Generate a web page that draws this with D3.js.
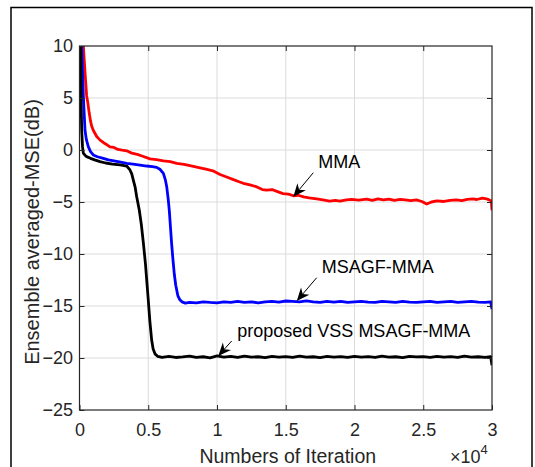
<!DOCTYPE html>
<html>
<head>
<meta charset="utf-8">
<script src="https://cdn.jsdelivr.net/npm/d3@7/dist/d3.min.js"></script>
<style>
  body { margin: 0; background: #fff; }
  text { font-family: "Liberation Sans", Arial, Helvetica, sans-serif; }
</style>
</head>
<body>
<svg id="chart"></svg>
<script>
'use strict';

let WIDTH = 535;
let HEIGHT = 467;

// plot box (pixels)
let LEFT = 79.5, RIGHT = 492, TOP = 46, BOTTOM = 410;

let COLOR = {
    MMA: '#ff0000',
    MSAGF: '#0000ff',
    VSS: '#000000',
    AXIS: '#262626',
    GRID: '#dbdbdb'
};

// axis ticks
let xTicks = [0, 5000, 10000, 15000, 20000, 25000, 30000];
let xTickLabels = ['0', '0.5', '1', '1.5', '2', '2.5', '3'];
let yTicks = [-25, -20, -15, -10, -5, 0, 5, 10];

// [iteration, MSE dB]
let mma = [
    [0, 30], [100, 20], [200, 13], [280, 10], [400, 7.5], [520, 5.2], [600, 4.6], [700, 3.6],
    [800, 2.8], [885, 2.3], [1000, 1.9], [1250, 1.3], [1500, 0.95], [1750, 0.7], [2000, 0.5],
    [2220, 0.3], [2500, 0.25], [2800, 0.05], [3100, -0.02], [3430, -0.08], [3800, -0.3],
    [4200, -0.42], [4600, -0.6], [5130, -0.85], [5600, -0.92], [6100, -1.05], [6600, -1.12],
    [7070, -1.28], [7600, -1.38], [8200, -1.55], [8760, -1.72], [9200, -1.85], [9700, -2.0],
    [10220, -2.35], [10700, -2.6], [11200, -2.85], [11600, -3.05], [11910, -3.2], [12400, -3.35],
    [12900, -3.55], [13300, -3.8], [13610, -3.85], [14000, -3.8], [14400, -4.0], [14800, -4.2],
    [15200, -4.25], [15550, -4.4], [15900, -4.35], [16300, -4.5], [16700, -4.6], [17250, -4.7],
    [17700, -4.8], [18200, -4.92], [18600, -4.85], [18950, -4.92], [19400, -4.8], [19800, -4.75],
    [20300, -4.82], [20890, -4.72], [21300, -4.85], [21700, -4.7], [22100, -4.8], [22500, -4.72],
    [22900, -4.85], [23310, -4.75], [23700, -4.8], [24100, -4.86], [24500, -4.8], [24900, -4.95],
    [25250, -5.2], [25600, -5.0], [26000, -4.9], [26500, -4.95], [26950, -4.85], [27400, -4.8],
    [27800, -4.86], [28200, -4.74], [28600, -4.7], [28890, -4.76], [29300, -4.62], [29600, -4.7],
    [29800, -4.8], [29950, -4.9], [30000, -5.8]
];

let msagf = [
    [0, 30], [80, 18], [160, 10], [280, 5.2], [400, 1.9], [500, 1.0], [640, 0.32], [800, -0.15],
    [1000, -0.48], [1300, -0.65], [1730, -0.8], [2100, -0.95], [2500, -1.05], [2900, -1.15],
    [3430, -1.28], [3900, -1.35], [4400, -1.45], [4890, -1.54], [5300, -1.6], [5610, -1.67],
    [5850, -1.85], [6100, -2.24], [6250, -2.9], [6340, -3.5], [6450, -4.7], [6530, -5.8],
    [6620, -7.5], [6700, -9.0], [6800, -10.6], [6900, -12.0], [7000, -13.0], [7150, -14.0],
    [7300, -14.4], [7450, -14.6], [7700, -14.72], [8000, -14.65], [8500, -14.7], [9000, -14.6],
    [9500, -14.66], [10000, -14.7], [10500, -14.6], [11000, -14.66], [11500, -14.56], [12000, -14.65],
    [12500, -14.6], [13000, -14.7], [13500, -14.6], [14000, -14.55], [14500, -14.62], [15000, -14.52],
    [15500, -14.56], [16000, -14.6], [16500, -14.5], [17000, -14.6], [17500, -14.66], [18000, -14.55],
    [18500, -14.62], [19000, -14.55], [19500, -14.66], [20000, -14.6], [20500, -14.55], [21000, -14.62],
    [21500, -14.66], [22000, -14.55], [22500, -14.6], [23000, -14.66], [23500, -14.55], [24000, -14.62],
    [24500, -14.66], [25000, -14.6], [25500, -14.55], [26000, -14.65], [26500, -14.6], [27000, -14.55],
    [27500, -14.65], [28000, -14.6], [28500, -14.55], [29000, -14.62], [29500, -14.65], [29900, -14.6],
    [30000, -15.3]
];

let vss = [
    [0, 30], [40, 15], [80, 10], [120, 4.5], [160, 1.9], [220, 0.3], [280, -0.3], [400, -0.5],
    [520, -0.64], [800, -0.8], [1100, -0.95], [1490, -1.12], [1900, -1.25], [2400, -1.35],
    [2950, -1.44], [3430, -1.54], [3670, -1.92], [3800, -2.3], [3910, -2.88], [4050, -3.6],
    [4160, -4.5], [4350, -5.8], [4500, -7.2], [4650, -9.0], [4800, -11.0], [4900, -12.7],
    [5000, -14.4], [5120, -16.5], [5250, -18.3], [5350, -19.1], [5490, -19.6], [5700, -19.85],
    [6000, -19.95], [6500, -19.85], [7000, -19.95], [7500, -19.9], [8000, -19.82], [8500, -19.95],
    [9000, -19.88], [9500, -19.98], [10000, -19.8], [10500, -19.92], [11000, -19.85], [11500, -19.95],
    [12000, -19.82], [12500, -19.92], [13000, -19.88], [13500, -19.96], [14000, -19.84], [14500, -19.92],
    [15000, -19.86], [15500, -19.95], [16000, -19.82], [16500, -19.92], [17000, -19.88], [17500, -19.96],
    [18000, -19.85], [18500, -19.92], [19000, -19.86], [19500, -19.95], [20000, -19.84], [20500, -19.92],
    [21000, -19.87], [21500, -19.95], [22000, -19.83], [22500, -19.92], [23000, -19.88], [23500, -19.96],
    [24000, -19.84], [24500, -19.9], [25000, -19.86], [25500, -19.95], [26000, -19.84], [26500, -19.92],
    [27000, -19.87], [27500, -19.95], [28000, -19.83], [28500, -19.92], [29000, -19.88], [29500, -19.95],
    [29900, -19.86], [30000, -20.7]
];

// annotations: label, arrow tip in data units, tail and text position in pixels
let notes = [
    { text: 'MMA', tip: [15550, -4.49], tail: [313.3, 172.7], at: [318.3, 167.7] },
    { text: 'MSAGF-MMA', tip: [15800, -14.52], tail: [316.7, 277.7], at: [321.7, 272.7] },
    { text: 'proposed VSS MSAGF-MMA', tip: [10090, -19.8], tail: [231.7, 341], at: [237.3, 336.7] }
];

let svg = d3.select('#chart').attr('width', WIDTH).attr('height', HEIGHT);

let x = d3.scaleLinear().domain([0, 30000]).range([LEFT, RIGHT]);
let y = d3.scaleLinear().domain([-25, 10]).range([BOTTOM, TOP]);

// figure frame
svg.append('rect')
    .attr('x', 11).attr('y', 7.5)
    .attr('width', 521).attr('height', 520)
    .attr('fill', 'none').attr('stroke', '#000').attr('stroke-width', 1.5);

// grid
let grid = svg.append('g');
grid.selectAll('.gx').data(xTicks.slice(1, -1)).enter().append('line')
    .attr('x1', d => x(d)).attr('x2', d => x(d))
    .attr('y1', TOP).attr('y2', BOTTOM)
    .attr('stroke', COLOR.GRID).attr('stroke-width', 1);
grid.selectAll('.gy').data(yTicks.slice(1, -1)).enter().append('line')
    .attr('y1', d => y(d)).attr('y2', d => y(d))
    .attr('x1', LEFT).attr('x2', RIGHT)
    .attr('stroke', COLOR.GRID).attr('stroke-width', 1);

// curves
svg.append('clipPath').attr('id', 'clip')
    .append('rect').attr('x', LEFT).attr('y', TOP)
    .attr('width', RIGHT - LEFT).attr('height', BOTTOM - TOP);

let line = d3.line().x(d => x(d[0])).y(d => y(d[1]));
let curves = svg.append('g').attr('clip-path', 'url(#clip)');
[[mma, COLOR.MMA], [msagf, COLOR.MSAGF], [vss, COLOR.VSS]].forEach(function(s) {
    curves.append('path')
        .attr('d', line(s[0]))
        .attr('fill', 'none')
        .attr('stroke', s[1])
        .attr('stroke-width', 2.8)
        .attr('stroke-linejoin', 'round');
});

// axes: ticks point inward on all four sides
function styleAxis(g) {
    g.select('.domain').remove();
    g.selectAll('.tick line').attr('stroke', COLOR.AXIS);
    g.selectAll('.tick text')
        .attr('fill', COLOR.AXIS)
        .style('font-size', '18px')
        .style('font-family', '"Liberation Sans", Arial, sans-serif');
}

svg.append('g').attr('transform', 'translate(0,' + BOTTOM + ')')
    .call(d3.axisBottom(x).tickValues(xTicks).tickSize(-5).tickPadding(13)
        .tickFormat((d, i) => xTickLabels[i]))
    .call(styleAxis);
svg.append('g').attr('transform', 'translate(0,' + TOP + ')')
    .call(d3.axisTop(x).tickValues(xTicks.slice(1, -1)).tickSize(-5).tickFormat(''))
    .call(styleAxis);
svg.append('g').attr('transform', 'translate(' + LEFT + ',0)')
    .call(d3.axisLeft(y).tickValues(yTicks).tickSize(-5).tickPadding(6.5))
    .call(styleAxis);
svg.append('g').attr('transform', 'translate(' + RIGHT + ',0)')
    .call(d3.axisRight(y).tickValues(yTicks.slice(1, -1)).tickSize(-5).tickFormat(''))
    .call(styleAxis);

// box
svg.append('rect')
    .attr('x', LEFT).attr('y', TOP)
    .attr('width', RIGHT - LEFT).attr('height', BOTTOM - TOP)
    .attr('fill', 'none').attr('stroke', COLOR.AXIS).attr('stroke-width', 1.2);

// labels
svg.append('text')
    .attr('x', (LEFT + RIGHT) / 2 + 2).attr('y', 463)
    .attr('text-anchor', 'middle')
    .attr('fill', COLOR.AXIS)
    .style('font-size', '19.5px')
    .text('Numbers of Iteration');

svg.append('text')
    .attr('transform', 'translate(39,' + ((TOP + BOTTOM) / 2 + 4) + ') rotate(-90)')
    .attr('text-anchor', 'middle')
    .attr('fill', COLOR.AXIS)
    .style('font-size', '20px')
    .text('Ensemble averaged-MSE(dB)');

let exp = svg.append('text')
    .attr('x', 450).attr('y', 463)
    .attr('fill', COLOR.AXIS)
    .style('font-size', '18px');
exp.append('tspan').text('\u00d710');
exp.append('tspan').attr('dy', -9).style('font-size', '13px').text('4');

// annotations with arrows
notes.forEach(function(n) {
    let tx = x(n.tip[0]), ty = y(n.tip[1]);
    let dx = tx - n.tail[0], dy = ty - n.tail[1];
    let len = Math.sqrt(dx * dx + dy * dy);
    let ux = dx / len, uy = dy / len;
    let hl = 13, hw = 5.5;
    let bx = tx - ux * hl, by = ty - uy * hl;
    let nx = tx - ux * hl * 0.7, ny = ty - uy * hl * 0.7;

    svg.append('line')
        .attr('x1', n.tail[0]).attr('y1', n.tail[1])
        .attr('x2', nx).attr('y2', ny)
        .attr('stroke', '#000').attr('stroke-width', 1);
    svg.append('path')
        .attr('d', 'M' + tx + ',' + ty +
            'L' + (bx - uy * hw) + ',' + (by + ux * hw) +
            'L' + nx + ',' + ny +
            'L' + (bx + uy * hw) + ',' + (by - ux * hw) + 'Z')
        .attr('fill', '#000');
    svg.append('text')
        .attr('x', n.at[0]).attr('y', n.at[1])
        .attr('fill', '#000')
        .style('font-size', '18px')
        .text(n.text);
});
</script>
</body>
</html>
